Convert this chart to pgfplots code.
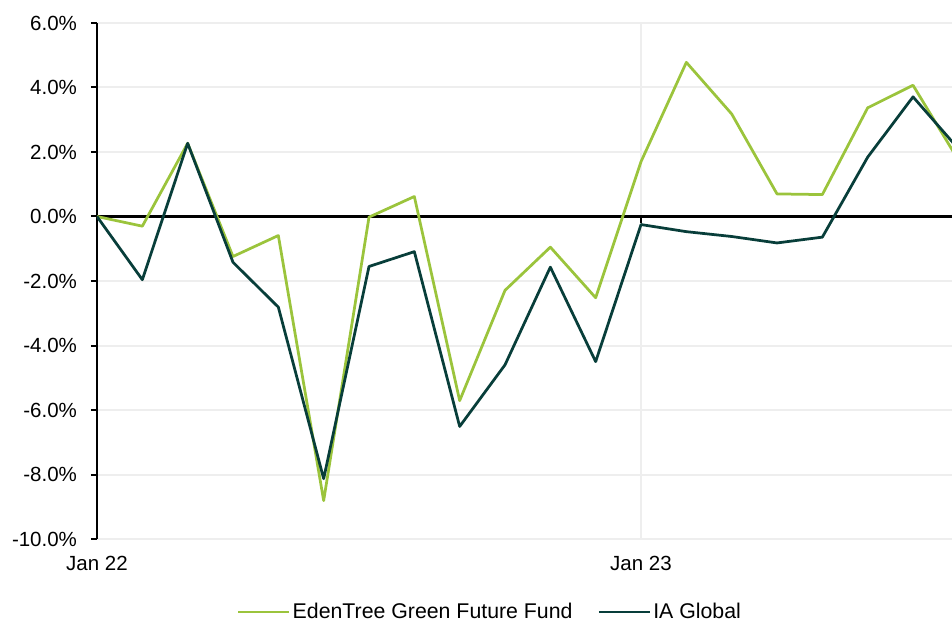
\documentclass[border=0pt]{standalone}
\usepackage{fontspec}
\setmainfont{Liberation Sans}
\usepackage{pgfplots}
\pgfplotsset{compat=1.18}
\definecolor{edengreen}{RGB}{155,196,60}
\definecolor{iadark}{RGB}{8,62,58}
\definecolor{gridgrey}{RGB}{238,238,238}
\begin{document}
\fontsize{20.5}{24}\selectfont
\begin{tikzpicture}
\begin{axis}[
  name=ax,
  at={(0,0)}, anchor=south west,
  scale only axis,
  width=855pt, height=516pt,
  xmin=0, xmax=18.86,
  ymin=-10, ymax=6,
  enlargelimits=false,
  clip=true,
  axis x line*=bottom, axis y line*=left,
  x axis line style={draw=none},
  y axis line style={black, line width=2.5pt, -},
  xtick={0,12}, xticklabels={Jan 22, Jan 23},
  ytick={-10,-8,-6,-4,-2,0,2,4,6},
  yticklabels={-10.0\%,-8.0\%,-6.0\%,-4.0\%,-2.0\%,0.0\%,2.0\%,4.0\%,6.0\%},
  tick align=outside,
  major tick length=6pt,
  xtick style={draw=none},
  ytick style={black, line width=2pt},
  xmajorgrids, ymajorgrids,
  major grid style={gridgrey, line width=2pt},
  extra y ticks={0},
  extra y tick labels={},
  extra y tick style={grid=major, major grid style={black, line width=2.5pt}, tick style={draw=none}},
  yticklabel style={font=\fontsize{20.5}{24}\selectfont, xshift=-7pt},
  xticklabel style={font=\fontsize{20.5}{24}\selectfont, yshift=-4pt},
  legend columns=2,
  legend style={at={(0.4596,-0.1415)}, anchor=center, draw=none, fill=none,
    inner sep=1pt,
    font=\fontsize{21.3}{24}\selectfont,
    /tikz/every even column/.append style={column sep=23pt},
    /tikz/every odd column/.append style={column sep=0pt}},
  legend image code/.code={\draw[#1, line width=2.75pt] (0pt,0pt) -- (51pt,0pt);},
  every axis plot/.append style={line width=2.75pt, line join=round},
]
\addplot[edengreen, mark=none] coordinates {
(0,0) (1,-0.30) (2,2.27) (3,-1.24) (4,-0.59) (5,-8.81) (6,-0.02) (7,0.62)
(8,-5.71) (9,-2.29) (10,-0.95) (11,-2.52) (12,1.70) (13,4.78) (14,3.18)
(15,0.70) (16,0.68) (17,3.37) (18,4.07) (19,1.75)};
\addlegendentry{EdenTree Green Future Fund}
\addplot[iadark, mark=none] coordinates {
(0,0) (1,-1.96) (2,2.27) (3,-1.42) (4,-2.81) (5,-8.13) (6,-1.55) (7,-1.09)
(8,-6.51) (9,-4.60) (10,-1.57) (11,-4.50) (12,-0.25) (13,-0.47) (14,-0.62)
(15,-0.82) (16,-0.64) (17,1.84) (18,3.71) (19,2.10)};
\addlegendentry{IA Global}
\draw[black, line width=2pt] (axis cs:12,0) -- (axis cs:12,-0.19);
\end{axis}
\pgfresetboundingbox
\useasboundingbox (-97pt,-85pt) rectangle (855pt,539pt);
\end{tikzpicture}
\end{document}
